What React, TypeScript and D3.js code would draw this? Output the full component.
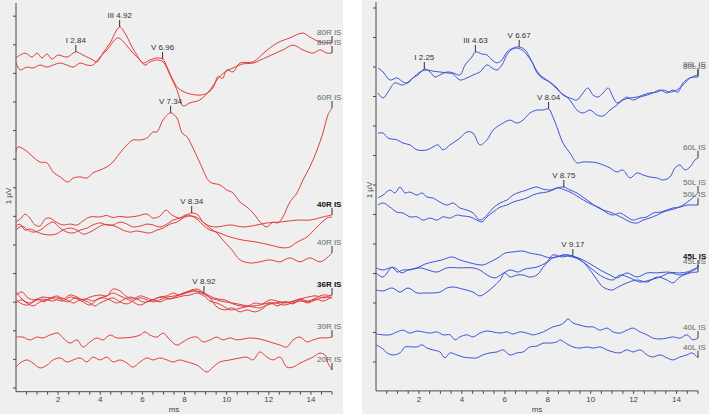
import React from "react";
import * as d3 from "d3";

type Pt = [number, number];

// Averaged ABR sweeps: latency in ms, amplitude in scale divisions (stacked display).
// Right ear
const r80aT = [0, 0.43, 0.76, 1.0, 1.23, 1.47, 1.71, 1.99, 2.42, 2.84, 3.18, 3.65, 3.84, 4.13, 4.46, 4.92, 5.17, 5.51, 5.74, 6.03, 6.36, 6.69, 6.96, 7.17, 7.45, 7.69, 8.12, 8.73, 9.07, 9.35, 9.6, 9.8, 10.01, 10.3, 10.63, 11.25, 11.82, 12.39, 13.0, 13.62, 13.95, 14.43, 15];
const r80aV = [11.54, 11.71, 11.57, 11.71, 11.54, 11.68, 11.5, 11.64, 11.57, 11.75, 11.64, 11.47, 11.4, 11.71, 12.06, 12.62, 12.41, 11.92, 11.64, 11.36, 11.47, 11.54, 11.5, 11.22, 10.77, 10.49, 10.31, 10.24, 10.31, 10.49, 10.9, 10.82, 11.12, 11.05, 11.36, 11.4, 11.75, 12.06, 12.24, 12.41, 12.27, 12.1, 12.06];
const r80bT = [0, 0.19, 0.52, 0.81, 1.14, 1.47, 1.76, 2.09, 2.42, 2.71, 3.04, 3.37, 3.65, 3.99, 4.32, 4.84, 5.27, 5.55, 5.89, 6.12, 6.36, 6.69, 6.98, 7.31, 7.64, 7.93, 8.26, 8.73, 9.21, 9.54, 9.92, 10.3, 10.77, 11.25, 11.91, 12.67, 13.15, 13.62, 14.1, 14.43, 14.76, 15];
const r80bV = [11.4, 11.12, 11.22, 11.19, 11.29, 11.22, 11.29, 11.36, 11.29, 11.22, 11.36, 11.29, 11.29, 11.57, 11.82, 12.24, 11.96, 11.71, 11.47, 11.29, 11.4, 11.47, 11.4, 10.94, 10.42, 9.86, 9.97, 10.07, 10.42, 10.77, 11.05, 11.19, 11.33, 11.36, 11.57, 11.82, 11.99, 11.82, 11.71, 11.82, 11.71, 11.71];
const r60T = [0, 0.09, 0.43, 0.81, 1.14, 1.47, 1.76, 2.09, 2.47, 2.71, 3.04, 3.37, 3.65, 3.99, 4.32, 4.6, 4.94, 5.27, 5.55, 5.89, 6.22, 6.5, 6.69, 6.98, 7.34, 7.64, 7.88, 8.12, 8.4, 8.73, 9.21, 9.68, 10.01, 10.3, 10.63, 10.96, 11.25, 11.72, 11.91, 12.2, 12.43, 12.67, 13.0, 13.34, 13.62, 13.95, 14.29, 14.57, 14.81, 15];
const r60V = [8.25, 8.43, 8.32, 8.08, 7.9, 7.87, 7.55, 7.38, 7.2, 7.34, 7.38, 7.34, 7.52, 7.62, 7.73, 7.9, 8.22, 8.5, 8.67, 8.67, 8.74, 8.95, 8.95, 9.37, 9.62, 9.44, 8.92, 8.78, 8.39, 7.87, 7.2, 7.1, 6.92, 6.82, 6.5, 6.33, 6.12, 5.7, 5.63, 5.8, 5.77, 5.98, 6.5, 6.82, 7.27, 7.73, 8.32, 8.92, 9.55, 9.79];
const r40aT = [0, 0.24, 0.43, 0.66, 0.9, 1.14, 1.38, 1.61, 1.9, 2.23, 2.56, 2.9, 3.18, 3.51, 3.99, 4.3, 4.6, 4.9, 5.27, 5.74, 6.22, 6.5, 6.83, 7.12, 7.4, 7.78, 8.12, 8.34, 8.64, 8.88, 9.21, 9.54, 10.16, 10.77, 11.44, 11.91, 12.53, 13.34, 13.95, 14.57, 15];
const r40aV = [5.8, 5.94, 6.08, 5.94, 5.7, 5.66, 5.91, 5.94, 5.8, 5.7, 5.73, 5.7, 5.84, 5.98, 5.98, 6.03, 5.96, 6.0, 5.97, 6.01, 6.08, 5.94, 6.01, 6.22, 6.05, 5.94, 6.05, 6.12, 6.05, 5.8, 5.66, 5.63, 5.7, 5.63, 5.7, 5.77, 5.8, 5.87, 5.87, 5.98, 6.05];
const r40bT = [0, 0.28, 0.57, 0.81, 1.14, 1.47, 1.76, 2.09, 2.42, 2.71, 3.04, 3.37, 3.65, 3.99, 4.32, 4.6, 4.94, 5.27, 5.55, 5.89, 6.22, 6.5, 6.83, 7.17, 7.45, 7.78, 8.07, 8.35, 8.64, 8.88, 9.21, 9.54, 10.16, 10.77, 11.44, 12.05, 12.67, 13.0, 13.34, 13.81, 14.29, 14.76, 15];
const r40bV = [5.52, 5.66, 5.52, 5.45, 5.52, 5.7, 5.8, 5.59, 5.45, 5.42, 5.52, 5.59, 5.7, 5.77, 5.7, 5.7, 5.8, 5.73, 5.63, 5.66, 5.73, 5.7, 5.63, 5.73, 5.87, 5.94, 6.05, 6.01, 5.87, 5.7, 5.52, 5.45, 5.28, 5.17, 5.1, 5.0, 4.9, 4.93, 5.1, 5.28, 5.63, 5.94, 5.98];
const r40cT = [0, 0.19, 0.43, 0.66, 1.0, 1.28, 1.61, 1.9, 2.23, 2.56, 2.9, 3.18, 3.51, 3.84, 4.13, 4.46, 4.79, 5.08, 5.41, 5.74, 6.03, 6.36, 6.69, 6.98, 7.31, 7.64, 8.02, 8.26, 8.54, 8.88, 9.21, 9.54, 9.82, 10.25, 10.63, 11.1, 11.58, 12.05, 12.53, 13.0, 13.48, 13.95, 14.43, 14.76, 15];
const r40cV = [5.66, 5.73, 5.52, 5.56, 5.45, 5.38, 5.35, 5.38, 5.52, 5.59, 5.52, 5.38, 5.45, 5.59, 5.7, 5.7, 5.63, 5.52, 5.45, 5.49, 5.45, 5.42, 5.52, 5.59, 5.73, 5.8, 5.98, 6.01, 5.98, 5.8, 5.59, 5.42, 5.17, 4.83, 4.48, 4.37, 4.41, 4.48, 4.41, 4.55, 4.41, 4.55, 4.41, 4.55, 4.72];
const r36aT = [0, 0.28, 0.57, 0.9, 1.23, 1.61, 1.95, 2.23, 2.56, 2.9, 3.18, 3.51, 3.99, 4.32, 4.6, 4.94, 5.27, 5.55, 5.89, 6.22, 6.5, 6.83, 7.17, 7.45, 7.78, 8.12, 8.4, 8.64, 8.92, 9.21, 9.54, 9.92, 10.3, 10.77, 11.25, 11.58, 11.91, 12.29, 12.67, 13.1, 13.48, 13.86, 14.24, 14.57, 15];
const r36aV = [3.25, 3.36, 3.15, 3.08, 3.18, 3.15, 3.22, 3.11, 3.25, 3.18, 3.08, 3.18, 3.25, 3.22, 3.46, 3.39, 3.18, 3.11, 3.22, 3.15, 3.08, 3.18, 3.22, 3.32, 3.25, 3.36, 3.43, 3.36, 3.29, 3.15, 3.08, 3.01, 2.97, 2.9, 2.83, 2.8, 2.9, 2.97, 3.01, 3.01, 3.11, 3.18, 3.22, 3.15, 3.25];
const r36bT = [0, 0.33, 0.66, 1.0, 1.33, 1.61, 1.95, 2.23, 2.56, 2.9, 3.18, 3.51, 3.84, 4.13, 4.46, 4.79, 5.08, 5.41, 5.74, 6.03, 6.36, 6.69, 6.98, 7.31, 7.64, 7.93, 8.26, 8.59, 8.92, 9.21, 9.54, 9.92, 10.25, 10.63, 10.96, 11.34, 11.68, 12.05, 12.43, 12.77, 13.15, 13.48, 13.86, 14.24, 14.57, 15];
const r36bV = [3.36, 3.08, 2.97, 3.11, 3.01, 3.15, 3.08, 3.04, 3.18, 3.11, 3.01, 2.9, 3.08, 3.15, 3.08, 2.97, 3.08, 3.18, 3.11, 3.01, 3.04, 3.15, 3.18, 3.11, 3.22, 3.32, 3.39, 3.46, 3.32, 3.15, 2.83, 2.73, 2.8, 2.66, 2.73, 2.66, 2.76, 2.97, 2.87, 3.01, 2.94, 3.08, 2.97, 3.11, 3.04, 3.18];
const r36cT = [0, 0.28, 0.57, 0.9, 1.23, 1.52, 1.85, 2.18, 2.47, 2.8, 3.13, 3.42, 3.75, 3.99, 4.32, 4.6, 4.94, 5.27, 5.55, 5.89, 6.22, 6.5, 6.83, 7.17, 7.55, 7.93, 8.26, 8.59, 8.92, 9.3, 9.59, 9.92, 10.3, 10.63, 11.01, 11.34, 11.68, 12.05, 12.39, 12.77, 13.15, 13.48, 13.86, 14.24, 14.57, 15];
const r36cV = [3.08, 2.94, 2.9, 3.04, 3.11, 3.08, 3.18, 3.08, 3.01, 3.15, 3.08, 3.01, 2.87, 2.97, 3.08, 3.15, 3.01, 2.94, 3.04, 3.15, 3.08, 3.01, 3.08, 3.18, 3.22, 3.29, 3.36, 3.39, 3.32, 3.18, 3.11, 3.08, 2.94, 2.87, 2.87, 2.97, 2.94, 3.08, 3.04, 2.97, 3.04, 3.11, 3.04, 3.15, 3.25, 3.22];
const r36dT = [0, 0.24, 0.52, 0.81, 1.14, 1.47, 1.76, 2.09, 2.42, 2.71, 3.04, 3.37, 3.65, 3.99, 4.32, 4.6, 4.94, 5.27, 5.55, 5.89, 6.22, 6.5, 6.83, 7.17, 7.55, 7.93, 8.26, 8.59, 8.92, 9.21, 9.54, 9.82, 10.16, 10.49, 10.87, 11.25, 11.58, 11.96, 12.34, 12.72, 13.1, 13.48, 13.86, 14.24, 14.57, 15];
const r36dV = [2.97, 3.08, 2.97, 2.87, 3.01, 3.08, 3.04, 3.15, 3.08, 2.97, 3.08, 3.11, 3.04, 3.15, 3.22, 3.32, 3.22, 3.11, 3.01, 2.9, 3.01, 3.08, 3.01, 3.11, 3.15, 3.22, 3.25, 3.32, 3.22, 3.04, 2.97, 2.87, 2.73, 2.76, 2.83, 2.87, 2.9, 2.97, 2.97, 2.9, 2.97, 3.04, 3.01, 3.08, 3.18, 3.15];
const r30T = [0, 0.33, 0.66, 1.0, 1.28, 1.61, 1.99, 2.23, 2.56, 2.9, 3.18, 3.51, 3.84, 4.13, 4.46, 4.79, 5.08, 5.55, 5.89, 6.12, 6.36, 6.69, 6.98, 7.31, 7.64, 7.93, 8.26, 8.59, 8.88, 9.21, 9.54, 9.82, 10.16, 10.49, 10.77, 11.1, 11.58, 12.05, 12.53, 12.86, 13.15, 13.48, 13.81, 14.1, 14.43, 14.76, 15];
const r30V = [1.78, 1.78, 1.68, 1.78, 1.75, 1.85, 1.92, 1.75, 1.57, 1.68, 1.43, 1.61, 1.75, 1.68, 1.85, 1.75, 1.75, 1.78, 1.85, 1.96, 1.85, 1.78, 1.92, 1.68, 1.5, 1.61, 1.75, 1.78, 1.61, 1.68, 1.78, 1.68, 1.75, 1.68, 1.71, 1.75, 1.71, 1.61, 1.5, 1.43, 1.68, 1.78, 1.61, 1.68, 1.75, 1.75, 1.78];
const r20T = [0, 0.19, 0.52, 0.81, 1.14, 1.47, 1.76, 2.09, 2.42, 2.71, 3.04, 3.37, 3.65, 3.99, 4.32, 4.6, 4.94, 5.27, 5.55, 5.89, 6.22, 6.5, 6.83, 7.17, 7.45, 7.78, 8.12, 8.59, 9.07, 9.35, 9.68, 10.16, 10.63, 10.96, 11.25, 11.58, 11.91, 12.2, 12.53, 12.86, 13.15, 13.48, 13.81, 14.1, 14.43, 14.67, 14.81, 15];
const r20V = [0.73, 0.87, 0.98, 0.87, 0.7, 0.8, 0.98, 1.05, 0.91, 0.98, 1.05, 0.91, 1.08, 0.98, 1.08, 0.91, 0.98, 0.87, 0.73, 0.91, 1.05, 0.98, 1.05, 0.98, 0.91, 0.98, 0.91, 0.8, 0.56, 0.73, 0.91, 0.98, 1.05, 1.08, 0.98, 1.26, 1.08, 0.98, 1.08, 0.73, 0.73, 0.87, 0.98, 1.08, 1.22, 1.15, 0.87, 0.63];

// Left ear
const l80aT = [0.09, 0.33, 0.65, 0.98, 1.26, 1.49, 1.72, 1.96, 2.25, 2.52, 2.75, 2.98, 3.31, 3.59, 3.91, 4.15, 4.47, 4.63, 4.94, 5.17, 5.4, 5.64, 5.87, 6.1, 6.38, 6.67, 6.94, 7.17, 7.41, 7.64, 7.96, 8.24, 8.57, 8.9, 9.13, 9.36, 9.64, 9.97, 10.3, 10.58, 10.9, 11.22, 11.5, 11.83, 12.16, 12.44, 12.76, 13.09, 13.37, 13.69, 14.02, 14.3, 14.63, 15];
const l80aV = [9.97, 9.83, 9.56, 9.63, 9.49, 9.46, 9.63, 9.73, 9.93, 9.83, 9.66, 9.73, 9.83, 9.8, 9.73, 10.07, 10.34, 10.51, 10.44, 10.41, 10.24, 10.14, 10.24, 10.51, 10.64, 10.68, 10.58, 10.31, 9.97, 9.73, 9.56, 9.39, 9.15, 8.98, 8.78, 8.54, 8.44, 8.54, 8.37, 8.34, 8.54, 8.71, 8.88, 8.95, 8.98, 9.05, 9.12, 9.15, 9.22, 9.15, 9.22, 9.39, 9.63, 9.73];
const l80bT = [0.09, 0.33, 0.56, 0.88, 1.21, 1.44, 1.72, 2.05, 2.38, 2.65, 2.98, 3.31, 3.59, 3.91, 4.24, 4.52, 4.84, 5.17, 5.4, 5.64, 5.87, 6.15, 6.47, 6.8, 7.03, 7.27, 7.5, 7.73, 8.1, 8.43, 8.71, 9.04, 9.36, 9.64, 9.87, 10.11, 10.34, 10.58, 10.81, 11.04, 11.22, 11.46, 11.69, 11.97, 12.3, 12.63, 12.9, 13.23, 13.55, 13.83, 14.07, 14.3, 14.63, 15];
const l80bV = [9.12, 8.95, 9.15, 9.46, 9.39, 9.46, 9.63, 9.83, 9.9, 9.86, 9.83, 9.8, 9.76, 9.56, 9.63, 9.73, 9.83, 10.07, 9.97, 9.9, 10.07, 10.47, 10.64, 10.58, 10.41, 10.17, 9.8, 9.63, 9.49, 9.29, 9.05, 8.95, 8.88, 9.12, 9.29, 9.05, 8.98, 9.12, 9.29, 8.98, 8.78, 8.88, 8.98, 8.88, 8.98, 9.05, 9.12, 9.22, 9.12, 9.22, 9.15, 9.46, 9.63, 9.66];
const l60T = [0.09, 0.33, 0.56, 0.98, 1.26, 1.58, 1.91, 2.38, 2.65, 2.89, 3.12, 3.45, 3.91, 4.24, 4.52, 4.84, 5.17, 5.45, 5.92, 6.24, 6.57, 6.85, 7.17, 7.5, 7.78, 8.04, 8.24, 8.48, 8.71, 9.04, 9.36, 9.64, 9.97, 10.3, 10.58, 10.9, 11.22, 11.5, 11.83, 12.16, 12.44, 12.76, 13.09, 13.37, 13.69, 13.93, 14.16, 14.39, 14.63, 14.86, 15];
const l60V = [7.76, 7.76, 7.59, 7.53, 7.42, 7.36, 7.19, 7.19, 7.29, 7.36, 7.19, 7.36, 7.59, 7.8, 7.76, 7.36, 7.53, 7.86, 8.1, 8.2, 8.1, 8.2, 8.44, 8.54, 8.54, 8.58, 8.31, 7.86, 7.42, 7.08, 6.75, 6.78, 6.78, 6.75, 6.68, 6.58, 6.44, 6.51, 6.24, 6.41, 6.34, 6.27, 6.24, 6.17, 6.27, 6.58, 6.68, 6.51, 6.61, 6.85, 6.92];
const l50aT = [0.09, 0.33, 0.65, 0.88, 1.12, 1.35, 1.58, 1.91, 2.14, 2.38, 2.65, 2.98, 3.31, 3.59, 3.91, 4.24, 4.52, 4.84, 5.17, 5.45, 5.78, 6.1, 6.38, 6.71, 7.03, 7.27, 7.5, 7.78, 8.1, 8.43, 8.75, 9.04, 9.36, 9.64, 9.97, 10.3, 10.58, 10.9, 11.22, 11.5, 11.83, 12.16, 12.44, 12.76, 13.09, 13.37, 13.69, 14.02, 14.3, 14.63, 15];
const l50aV = [5.56, 5.66, 5.83, 5.73, 5.93, 5.73, 5.76, 5.66, 5.73, 5.59, 5.56, 5.42, 5.32, 5.39, 5.22, 5.15, 5.05, 4.81, 4.98, 5.22, 5.39, 5.49, 5.66, 5.76, 5.83, 5.9, 5.93, 5.86, 5.83, 5.9, 5.93, 5.83, 5.73, 5.59, 5.42, 5.25, 5.15, 5.08, 4.98, 4.88, 4.75, 4.71, 4.81, 4.88, 4.98, 5.08, 5.15, 5.22, 5.32, 5.49, 5.73];
const l50bT = [0.09, 0.33, 0.65, 0.98, 1.26, 1.58, 1.91, 2.19, 2.52, 2.84, 3.12, 3.45, 3.77, 4.05, 4.38, 4.7, 4.94, 5.17, 5.45, 5.78, 6.1, 6.38, 6.71, 7.03, 7.31, 7.64, 7.96, 8.24, 8.48, 8.8, 9.13, 9.5, 9.83, 10.11, 10.44, 10.76, 11.04, 11.36, 11.69, 11.97, 12.3, 12.63, 12.9, 13.23, 13.55, 13.83, 14.16, 14.49, 14.76, 15];
const l50bV = [5.32, 5.39, 5.25, 5.08, 5.05, 4.92, 4.92, 4.81, 4.88, 4.81, 4.92, 4.88, 4.98, 4.95, 4.92, 4.81, 4.75, 4.92, 5.08, 5.25, 5.32, 5.42, 5.49, 5.56, 5.66, 5.73, 5.76, 5.83, 5.9, 5.83, 5.73, 5.56, 5.42, 5.32, 5.22, 5.05, 4.98, 5.05, 4.92, 4.81, 4.88, 4.92, 5.05, 5.08, 5.15, 5.22, 5.25, 5.32, 5.32, 5.32];
const l45aT = [0, 0.33, 0.65, 0.88, 1.21, 1.49, 1.91, 2.28, 2.65, 3.07, 3.54, 3.91, 4.38, 4.98, 5.31, 5.68, 6.01, 6.38, 6.85, 7.17, 7.64, 8.1, 8.43, 8.71, 9.17, 9.64, 10.06, 10.44, 10.9, 11.22, 11.69, 12.16, 12.63, 13.09, 13.55, 14.02, 14.49, 15];
const l45aV = [3.19, 3.12, 3.19, 3.19, 3.02, 3.12, 3.19, 3.32, 3.39, 3.46, 3.56, 3.46, 3.36, 3.29, 3.39, 3.53, 3.69, 3.73, 3.76, 3.69, 3.63, 3.53, 3.56, 3.63, 3.59, 3.46, 3.29, 3.12, 2.95, 2.85, 3.02, 2.88, 3.02, 3.02, 3.05, 3.02, 3.05, 3.22];
const l45bT = [0, 0.33, 0.75, 0.98, 1.26, 1.58, 2.05, 2.42, 2.84, 3.31, 3.91, 4.52, 4.84, 5.17, 5.54, 5.87, 6.24, 6.61, 6.94, 7.5, 7.96, 8.24, 8.66, 8.94, 9.27, 9.5, 9.83, 10.11, 10.58, 11.04, 11.36, 11.83, 12.3, 12.76, 13.23, 13.69, 14.16, 14.63, 15];
const l45bV = [3.02, 2.88, 3.22, 3.05, 3.12, 3.12, 3.19, 3.12, 3.05, 3.19, 3.19, 3.19, 3.12, 2.95, 2.85, 2.98, 3.12, 3.05, 3.15, 3.22, 3.39, 3.63, 3.56, 3.59, 3.53, 3.46, 3.29, 3.12, 2.88, 2.78, 2.95, 2.85, 2.71, 2.78, 2.88, 3.02, 2.95, 3.05, 3.19];
const l45cT = [0, 0.33, 0.75, 1.12, 1.49, 1.91, 2.28, 2.65, 2.98, 3.31, 3.59, 4.05, 4.52, 4.84, 5.17, 5.45, 5.78, 6.01, 6.24, 6.57, 6.85, 7.17, 7.5, 7.87, 8.24, 8.57, 8.9, 9.36, 9.64, 9.97, 10.3, 10.58, 11.0, 11.27, 11.69, 12.16, 12.63, 13.09, 13.55, 13.83, 14.16, 14.63, 15];
const l45cV = [2.44, 2.41, 2.51, 2.37, 2.51, 2.34, 2.34, 2.34, 2.37, 2.51, 2.54, 2.47, 2.37, 2.24, 2.37, 2.54, 2.78, 3.02, 2.88, 2.95, 2.95, 2.88, 2.95, 3.29, 3.53, 3.59, 3.63, 3.53, 3.39, 3.12, 2.78, 2.54, 2.44, 2.54, 2.68, 2.78, 2.71, 2.88, 2.78, 2.68, 2.88, 3.02, 3.05];
const l40aT = [0, 0.33, 0.65, 0.98, 1.26, 1.58, 1.91, 2.19, 2.52, 2.84, 3.12, 3.45, 3.68, 3.91, 4.24, 4.52, 4.84, 5.17, 5.45, 5.78, 6.1, 6.38, 6.71, 7.03, 7.31, 7.64, 7.96, 8.24, 8.57, 8.8, 8.94, 9.18, 9.5, 9.83, 10.11, 10.44, 10.76, 11.04, 11.36, 11.69, 11.97, 12.3, 12.63, 12.9, 13.23, 13.55, 13.83, 14.16, 14.49, 14.76, 15];
const l40aV = [0.95, 0.92, 0.92, 1.02, 1.08, 0.98, 1.05, 1.02, 0.98, 1.02, 0.92, 0.92, 0.75, 0.85, 0.92, 0.85, 0.98, 1.05, 1.02, 0.98, 1.02, 0.95, 1.02, 0.98, 0.92, 0.98, 1.08, 1.19, 1.25, 1.36, 1.46, 1.32, 1.25, 1.19, 1.19, 1.08, 1.15, 1.02, 0.98, 1.08, 1.15, 1.02, 0.92, 0.81, 0.78, 0.81, 0.85, 0.81, 0.92, 0.75, 0.81];
const l40bT = [0, 0.28, 0.51, 0.79, 1.12, 1.35, 1.68, 1.91, 2.14, 2.38, 2.65, 2.98, 3.21, 3.45, 3.77, 4.05, 4.38, 4.7, 4.98, 5.31, 5.64, 5.92, 6.24, 6.57, 6.85, 7.17, 7.5, 7.78, 8.1, 8.43, 8.57, 8.9, 9.18, 9.5, 9.83, 10.11, 10.44, 10.76, 11.04, 11.36, 11.69, 11.97, 12.3, 12.63, 12.9, 13.23, 13.55, 13.83, 14.16, 14.49, 14.72, 15];
const l40bV = [0.58, 0.47, 0.31, 0.24, 0.31, 0.51, 0.51, 0.51, 0.58, 0.47, 0.41, 0.34, 0.14, 0.31, 0.24, 0.17, 0.14, 0.14, 0.24, 0.31, 0.34, 0.41, 0.24, 0.31, 0.34, 0.51, 0.54, 0.64, 0.64, 0.68, 0.75, 0.61, 0.51, 0.47, 0.51, 0.47, 0.51, 0.41, 0.34, 0.31, 0.41, 0.34, 0.41, 0.24, 0.17, 0.24, 0.14, 0.07, 0.17, 0.24, 0.31, 0.14];

// sweep names shown at the end of each trace (null = no tag)
const rightEarTags = ["80R IS", "80R IS", "60R IS", "40R IS", null, "40R IS", "36R IS", null, null, null, "30R IS", "20R IS"];
const rightEarBold = [3, 6];
const leftEarTags = ["80L IS", "80L IS", "60L IS", "50L IS", "50L IS", "45L IS", null, "45L IS", "40L IS", "40L IS"];
const leftEarBold = [5];

// marked peaks: wave, latency (ms), index of the sweep they sit on
const rightPeakWave = ["I", "III", "V", "V", "V", "V"];
const rightPeakLatency = [2.84, 4.92, 6.96, 7.34, 8.34, 8.92];
const rightPeakSweep = [0, 0, 0, 2, 3, 7];
const leftPeakWave = ["I", "III", "V", "V", "V", "V"];
const leftPeakLatency = [2.25, 4.63, 6.67, 8.04, 8.75, 9.17];
const leftPeakSweep = [0, 0, 0, 2, 3, 5];

const msTicks = [2, 4, 6, 8, 10, 12, 14];

const zip = (t: number[], v: number[]): Pt[] => t.map((d, i) => [d, v[i]]);

const rightEarSweeps: Pt[][] = [
  zip(r80aT, r80aV), zip(r80bT, r80bV), zip(r60T, r60V), zip(r40aT, r40aV),
  zip(r40bT, r40bV), zip(r40cT, r40cV), zip(r36aT, r36aV), zip(r36bT, r36bV),
  zip(r36cT, r36cV), zip(r36dT, r36dV), zip(r30T, r30V), zip(r20T, r20V),
];
const leftEarSweeps: Pt[][] = [
  zip(l80aT, l80aV), zip(l80bT, l80bV), zip(l60T, l60V), zip(l50aT, l50aV),
  zip(l50bT, l50bV), zip(l45aT, l45aV), zip(l45bT, l45bV), zip(l45cT, l45cV),
  zip(l40aT, l40aV), zip(l40bT, l40bV),
];

const FONT = "'Liberation Sans', Arial, sans-serif";
const AXIS = "#4a4a4a";

// amplitude of a sweep at a given latency (linear between samples)
function valueAt(pts: Pt[], t: number) {
  const i = d3.bisector((d: Pt) => d[0]).left(pts, t);
  if (i <= 0) return pts[0][1];
  if (i >= pts.length) return pts[pts.length - 1][1];
  const [t0, v0] = pts[i - 1];
  const [t1, v1] = pts[i];
  return v0 + ((v1 - v0) * (t - t0)) / (t1 - t0);
}

type PanelProps = {
  bg: [number, number];
  xRange: [number, number];
  yDomain: [number, number];
  yRange: [number, number];
  yTicks: number[];
  color: string;
  sweeps: Pt[][];
  tags: (string | null)[];
  bold: number[];
  peakWave: string[];
  peakLatency: number[];
  peakSweep: number[];
  unitX: number;
  unitY: number;
};

function Panel(p: PanelProps) {
  const x = d3.scaleLinear().domain([0, 15]).range(p.xRange);
  const y = d3.scaleLinear().domain(p.yDomain).range(p.yRange);
  const line = d3
    .line<Pt>()
    .x((d) => x(d[0]))
    .y((d) => y(d[1]))
    .curve(d3.curveCatmullRom.alpha(0.5));

  const x0 = x(0);
  const yBottom = y(p.yDomain[0]);
  const minor = d3.range(1, 31).map((k) => k * 0.5);

  return (
    <g>
      <rect x={p.bg[0]} y={0} width={p.bg[1] - p.bg[0]} height={414} fill="#efefef" />
      {/* axes */}
      <line x1={x0} x2={x0} y1={y(p.yDomain[1])} y2={yBottom} stroke={AXIS} />
      <line x1={x0} x2={x(15)} y1={yBottom} y2={yBottom} stroke={AXIS} />
      {p.yTicks.map((v) => (
        <line key={"yt" + v} x1={x0 - 3} x2={x0} y1={y(v)} y2={y(v)} stroke={AXIS} />
      ))}
      {minor.map((t) => (
        <line key={"xt" + t} x1={x(t)} x2={x(t)} y1={yBottom} y2={yBottom + 3} stroke={AXIS} />
      ))}
      {msTicks.map((t) => (
        <text key={"xl" + t} x={x(t)} y={402} fontSize={8} fontFamily={FONT} fill="#444" textAnchor="middle">
          {t}
        </text>
      ))}
      <text x={(x(0) + x(15)) / 2} y={412} fontSize={8} fontFamily={FONT} fill="#444" textAnchor="middle">
        ms
      </text>
      <text
        transform={`translate(${p.unitX},${p.unitY}) rotate(-90)`}
        fontSize={8}
        fontFamily={FONT}
        fill="#444"
        textAnchor="middle"
        dominantBaseline="middle"
      >
        1 µV
      </text>

      {/* sweeps */}
      {p.sweeps.map((pts, i) => (
        <path key={"s" + i} d={line(pts) ?? ""} fill="none" stroke={p.color} strokeWidth={1} />
      ))}

      {/* sweep tags at the trace ends */}
      {p.sweeps.map((pts, i) => {
        const tag = p.tags[i];
        if (!tag) return null;
        const last = pts[pts.length - 1];
        const ex = x(last[0]);
        const ey = y(last[1]);
        const isBold = p.bold.includes(i);
        return (
          <g key={"tag" + i}>
            <line x1={ex} x2={ex} y1={ey} y2={ey - 7} stroke="#333" />
            <text
              x={ex - 15}
              y={ey - 8}
              fontSize={8}
              fontFamily={FONT}
              fontWeight={isBold ? "bold" : "normal"}
              fill={isBold ? "#111" : "#666"}
            >
              {tag}
            </text>
          </g>
        );
      })}

      {/* peak markers */}
      {p.peakLatency.map((t, i) => {
        const px = x(t);
        const py = y(valueAt(p.sweeps[p.peakSweep[i]], t));
        return (
          <g key={"pk" + i}>
            <line x1={px} x2={px} y1={py} y2={py - 7} stroke="#333" />
            <text x={px} y={py - 9} fontSize={8} fontFamily={FONT} fill="#333" textAnchor="middle">
              {`${p.peakWave[i]} ${t.toFixed(2)}`}
            </text>
          </g>
        );
      })}
    </g>
  );
}

export default function App() {
  return (
    <svg
      width={709}
      height={414}
      style={{ position: "absolute", left: 0, top: 0, background: "#fff" }}
    >
      <Panel
        bg={[0, 343]}
        xRange={[16, 332]}
        yDomain={[-0.13, 13.46]}
        yRange={[391.7, 3]}
        yTicks={d3.range(0, 14)}
        color="#e23b3b"
        sweeps={rightEarSweeps}
        tags={rightEarTags}
        bold={rightEarBold}
        peakWave={rightPeakWave}
        peakLatency={rightPeakLatency}
        peakSweep={rightPeakSweep}
        unitX={9}
        unitY={196}
      />
      <Panel
        bg={[362, 709]}
        xRange={[376, 698]}
        yDomain={[-0.98, 12.2]}
        yRange={[390.9, 2.1]}
        yTicks={d3.range(0, 13)}
        color="#3a55d6"
        sweeps={leftEarSweeps}
        tags={leftEarTags}
        bold={leftEarBold}
        peakWave={leftPeakWave}
        peakLatency={leftPeakLatency}
        peakSweep={leftPeakSweep}
        unitX={370}
        unitY={190}
      />
    </svg>
  );
}
